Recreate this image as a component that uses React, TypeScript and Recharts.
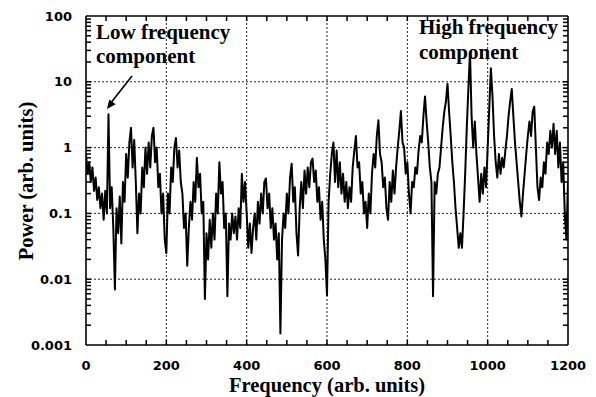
import { Line, LineChart, ReferenceLine, XAxis, YAxis } from "recharts";

// frequency (arb. units), sampled every 4
const frequency = [
  0, 4, 8, 12, 16, 20, 24, 28, 32, 36, 40, 44, 48, 52, 56, 60, 64, 68, 72, 76, 80, 84, 88, 92, 96,
  100, 104, 108, 112, 116, 120, 124, 128, 132, 136, 140, 144, 148, 152, 156, 160, 164, 168, 172, 176, 180, 184, 188, 192, 196,
  200, 204, 208, 212, 216, 220, 224, 228, 232, 236, 240, 244, 248, 252, 256, 260, 264, 268, 272, 276, 280, 284, 288, 292, 296,
  300, 304, 308, 312, 316, 320, 324, 328, 332, 336, 340, 344, 348, 352, 356, 360, 364, 368, 372, 376, 380, 384, 388, 392, 396,
  400, 404, 408, 412, 416, 420, 424, 428, 432, 436, 440, 444, 448, 452, 456, 460, 464, 468, 472, 476, 480, 484, 488, 492, 496,
  500, 504, 508, 512, 516, 520, 524, 528, 532, 536, 540, 544, 548, 552, 556, 560, 564, 568, 572, 576, 580, 584, 588, 592, 596,
  600, 604, 608, 612, 616, 620, 624, 628, 632, 636, 640, 644, 648, 652, 656, 660, 664, 668, 672, 676, 680, 684, 688, 692, 696,
  700, 704, 708, 712, 716, 720, 724, 728, 732, 736, 740, 744, 748, 752, 756, 760, 764, 768, 772, 776, 780, 784, 788, 792, 796,
  800, 804, 808, 812, 816, 820, 824, 828, 832, 836, 840, 844, 848, 852, 856, 860, 864, 868, 872, 876, 880, 884, 888, 892, 896,
  900, 904, 908, 912, 916, 920, 924, 928, 932, 936, 940, 944, 948, 952, 956, 960, 964, 968, 972, 976, 980, 984, 988, 992, 996,
  1000, 1004, 1008, 1012, 1016, 1020, 1024, 1028, 1032, 1036, 1040, 1044, 1048, 1052, 1056, 1060, 1064, 1068, 1072, 1076, 1080, 1084, 1088, 1092, 1096,
  1100, 1104, 1108, 1112, 1116, 1120, 1124, 1128, 1132, 1136, 1140, 1144, 1148, 1152, 1156, 1160, 1164, 1168, 1172, 1176, 1180, 1184, 1188, 1192, 1196,
  1200,
];

// power (arb. units)
const power = [
  0.8, 0.4, 0.6, 0.3, 0.5, 0.22, 0.35, 0.16, 0.25, 0.12, 0.2, 0.08, 0.22, 0.1, 3.2, 0.12, 0.25, 0.06, 0.007, 0.12, 0.05, 0.18, 0.035, 0.3, 0.15,
  0.8, 0.35, 1.2, 2.0, 0.5, 1.3, 0.3, 0.05, 0.2, 0.1, 0.5, 0.25, 1.0, 0.4, 1.2, 0.5, 1.5, 2.0, 0.6, 1.0, 0.25, 0.4, 0.1, 0.2, 0.04,
  0.025, 0.2, 0.1, 0.5, 0.3, 1.0, 1.4, 0.5, 0.9, 0.3, 0.2, 0.06, 0.1, 0.016, 0.06, 0.15, 0.08, 0.3, 0.15, 0.7, 0.25, 0.4, 0.1, 0.15, 0.005,
  0.05, 0.02, 0.08, 0.03, 0.1, 0.04, 0.2, 0.1, 0.6, 0.2, 0.3, 0.06, 0.1, 0.0055, 0.07, 0.04, 0.1, 0.05, 0.09, 0.04, 0.12, 0.06, 0.4, 0.15, 0.3,
  0.1, 0.03, 0.07, 0.025, 0.06, 0.1, 0.04, 0.15, 0.07, 0.2, 0.1, 0.3, 0.34, 0.12, 0.2, 0.06, 0.12, 0.04, 0.07, 0.02, 0.05, 0.0015, 0.04, 0.1, 0.06,
  0.2, 0.1, 0.35, 0.57, 0.15, 0.25, 0.05, 0.023, 0.12, 0.3, 0.12, 0.45, 0.2, 0.5, 0.25, 0.6, 0.68, 0.3, 0.45, 0.15, 0.25, 0.08, 0.15, 0.04, 0.02,
  0.0057, 0.15, 0.4, 0.8, 1.2, 0.3, 0.9, 0.25, 0.6, 0.2, 0.4, 0.15, 0.3, 0.12, 0.25, 0.15, 0.5, 0.9, 1.5, 0.5, 0.6, 0.2, 0.3, 0.1, 0.15,
  0.06, 0.2, 0.1, 0.4, 0.8, 0.5, 1.5, 2.6, 0.8, 0.6, 0.25, 0.35, 0.12, 0.08, 0.3, 0.15, 0.45, 0.2, 0.5, 1.0, 1.8, 3.6, 1.2, 1.0, 0.4,
  0.6, 0.2, 0.1, 0.3, 0.25, 0.5, 0.4, 0.9, 1.5, 1.2, 3.0, 6.0, 2.5, 1.2, 0.5, 0.3, 0.0055, 0.3, 0.2, 0.4, 0.5, 1.0, 2.0, 3.5, 5.0,
  9.3, 3.5, 1.5, 0.6, 0.3, 0.12, 0.06, 0.03, 0.05, 0.03, 0.1, 0.4, 2.0, 8.0, 28, 3.0, 1.0, 2.5, 0.8, 0.35, 0.15, 0.4, 0.2, 0.5, 0.25,
  1.0, 4.0, 16, 6.0, 1.5, 0.6, 0.35, 0.8, 0.4, 0.7, 0.5, 0.9, 1.5, 3.0, 5.0, 7.8, 3.0, 1.2, 0.6, 0.3, 0.15, 0.09, 0.2, 0.4, 0.8,
  1.5, 2.5, 1.5, 3.5, 4.2, 1.0, 0.25, 0.16, 0.35, 0.25, 0.6, 0.4, 1.2, 0.8, 1.8, 1.0, 2.3, 0.8, 1.8, 0.5, 1.2, 0.3, 0.6, 0.1, 0.04,
  0.3,
];

const xLabelTicks = [0, 200, 400, 600, 800, 1000, 1200];
const xMinorTicks = [
  50, 100, 150, 200, 250, 300, 350, 400, 450, 500, 550, 600,
  650, 700, 750, 800, 850, 900, 950, 1000, 1050, 1100, 1150,
];
const yLabelTicks = [0.001, 0.01, 0.1, 1, 10, 100];
const yMinorTicks = [
  0.002, 0.003, 0.004, 0.005, 0.006, 0.007, 0.008, 0.009, 0.01,
  0.02, 0.03, 0.04, 0.05, 0.06, 0.07, 0.08, 0.09, 0.1,
  0.2, 0.3, 0.4, 0.5, 0.6, 0.7, 0.8, 0.9, 1,
  2, 3, 4, 5, 6, 7, 8, 9, 10,
  20, 30, 40, 50, 60, 70, 80, 90,
];
const xGrid = [200, 400, 600, 800, 1000];
const yGrid = [0.01, 0.1, 1, 10];

const data = frequency.map((f, i) => ({ f, p: power[i] }));

const X_MIN = 0;
const X_MAX = 1200;
const Y_MIN = 0.001;
const Y_MAX = 100;

// plot box inside the 596x397 chart (set by the axis widths/heights below)
const LEFT = 86;
const RIGHT = 568;
const TOP = 16;
const BOTTOM = 345;
const px = (f: number) => LEFT + ((f - X_MIN) / (X_MAX - X_MIN)) * (RIGHT - LEFT);
const py = (v: number) =>
  BOTTOM - ((Math.log10(v) - Math.log10(Y_MIN)) / (Math.log10(Y_MAX) - Math.log10(Y_MIN))) * (BOTTOM - TOP);

const tickFont = { fontFamily: "DejaVu Sans", fontWeight: 700, fontSize: 13, fill: "#000" };
const titleFont = { fontFamily: "Liberation Serif", fontWeight: 700, fontSize: 20.5, fill: "#000" };
const noteFont = { fontFamily: "Liberation Serif", fontWeight: 700, fontSize: 21, fill: "#000" };

function LeftLabel({ x, y, payload }: any) {
  return (
    <text x={x} y={y} dy="0.36em" textAnchor="end" style={tickFont}>
      {String(payload.value)}
    </text>
  );
}

function BottomLabel({ x, y, payload }: any) {
  return (
    <text x={x} y={y} dy="0.71em" textAnchor="middle" style={tickFont}>
      {payload.value}
    </text>
  );
}

function TickMarks() {
  const len = 5;
  return (
    <g stroke="#000" strokeWidth={1.5}>
      {xMinorTicks.map((v) => (
        <g key={"x" + v}>
          <line x1={px(v)} x2={px(v)} y1={BOTTOM} y2={BOTTOM - len} />
          <line x1={px(v)} x2={px(v)} y1={TOP} y2={TOP + len} />
        </g>
      ))}
      {yMinorTicks.map((v) => (
        <g key={"y" + v}>
          <line x1={LEFT} x2={LEFT + len} y1={py(v)} y2={py(v)} />
          <line x1={RIGHT} x2={RIGHT - len} y1={py(v)} y2={py(v)} />
        </g>
      ))}
    </g>
  );
}

const axisLine = { stroke: "#000", strokeWidth: 1.6 };

export default function App() {
  return (
    <div style={{ position: "absolute", left: 0, top: 0, width: 596, height: 397, background: "#fff" }}>
      <LineChart width={596} height={397} data={data} margin={{ top: 0, right: 0, bottom: 0, left: 0 }}>
        <XAxis
          dataKey="f"
          type="number"
          domain={[X_MIN, X_MAX]}
          ticks={xLabelTicks}
          interval={0}
          height={397 - BOTTOM}
          tickSize={0}
          tickMargin={16}
          tickLine={false}
          axisLine={axisLine}
          tick={(props: any) => <BottomLabel {...props} />}
          allowDataOverflow
        />
        <XAxis
          xAxisId="top"
          orientation="top"
          type="number"
          domain={[X_MIN, X_MAX]}
          ticks={xLabelTicks}
          height={TOP}
          tickLine={false}
          axisLine={axisLine}
          tick={false}
          allowDataOverflow
        />
        <YAxis
          scale="log"
          type="number"
          domain={[Y_MIN, Y_MAX]}
          ticks={yLabelTicks}
          interval={0}
          width={LEFT}
          tickSize={0}
          tickMargin={14}
          tickLine={false}
          axisLine={axisLine}
          tick={(props: any) => <LeftLabel {...props} />}
          allowDataOverflow
        />
        <YAxis
          yAxisId="right"
          orientation="right"
          scale="log"
          type="number"
          domain={[Y_MIN, Y_MAX]}
          ticks={yLabelTicks}
          width={596 - RIGHT}
          tickLine={false}
          axisLine={axisLine}
          tick={false}
          allowDataOverflow
        />

        {xGrid.map((v) => (
          <ReferenceLine key={"gx" + v} x={v} stroke="#222" strokeDasharray="2 2" strokeWidth={1} />
        ))}
        {yGrid.map((v) => (
          <ReferenceLine key={"gy" + v} y={v} stroke="#222" strokeDasharray="2 2" strokeWidth={1} />
        ))}

        <Line
          type="linear"
          dataKey="p"
          stroke="#000"
          strokeWidth={2}
          strokeLinejoin="round"
          dot={false}
          isAnimationActive={false}
        />
      </LineChart>

      <svg width={596} height={397} style={{ position: "absolute", left: 0, top: 0, pointerEvents: "none" }}>
        <TickMarks />
        <text x={96} y={39} style={noteFont}>Low frequency</text>
        <text x={96} y={63} style={noteFont}>component</text>
        <text x={419} y={34} style={noteFont}>High frequency</text>
        <text x={419} y={59} style={noteFont}>component</text>
        <line x1={132} y1={76} x2={110} y2={104} stroke="#000" strokeWidth={1.6} />
        <polygon points="107,109 115.6,104.2 109.2,99.4" fill="#000" />
        <text x={327} y={392} textAnchor="middle" style={titleFont}>Frequency (arb. units)</text>
        <text x={33} y={181} textAnchor="middle" transform="rotate(-90, 33, 181)" style={titleFont}>
          Power (arb. units)
        </text>
      </svg>
    </div>
  );
}
